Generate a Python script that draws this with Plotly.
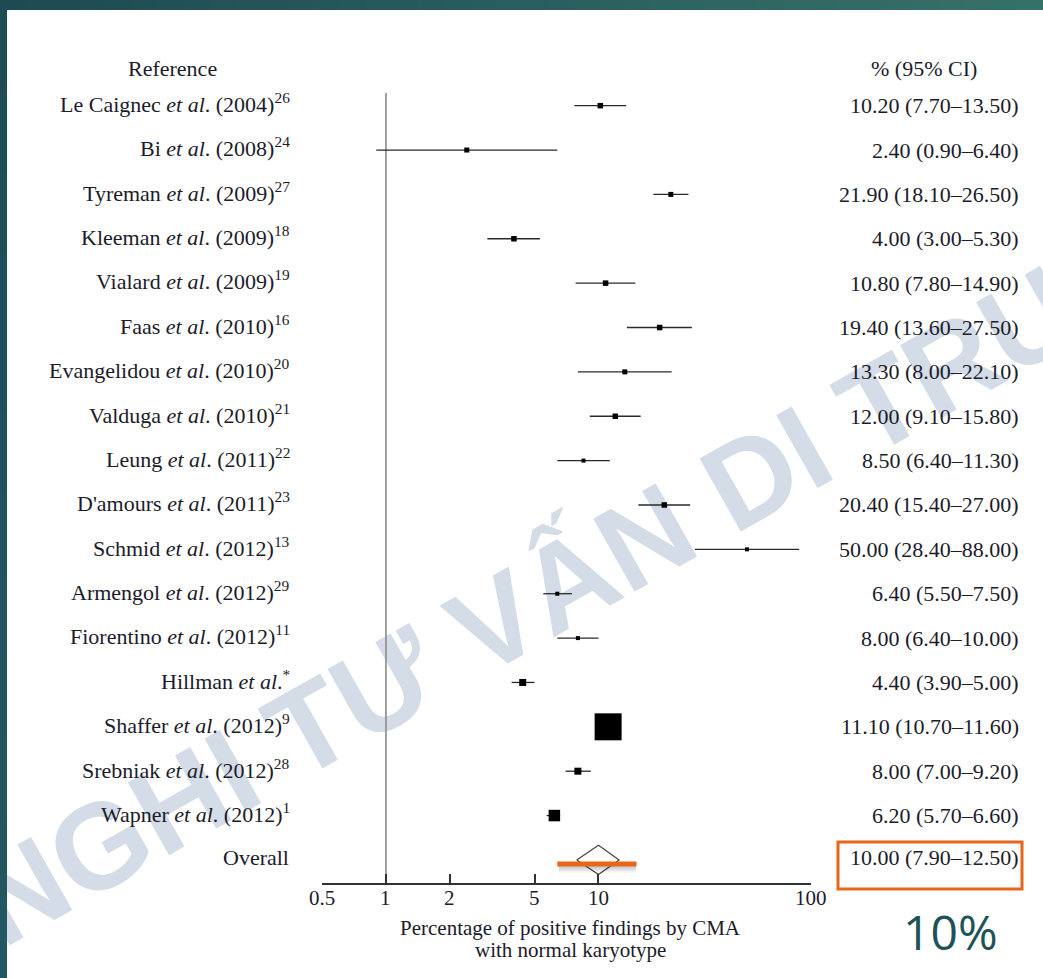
import math
import plotly.graph_objects as go

# ---- data -------------------------------------------------------------
studies = [
    "Le Caignec <i>et al</i>. (2004)<sup>26</sup>",
    "Bi <i>et al</i>. (2008)<sup>24</sup>",
    "Tyreman <i>et al</i>. (2009)<sup>27</sup>",
    "Kleeman <i>et al</i>. (2009)<sup>18</sup>",
    "Vialard <i>et al</i>. (2009)<sup>19</sup>",
    "Faas <i>et al</i>. (2010)<sup>16</sup>",
    "Evangelidou <i>et al</i>. (2010)<sup>20</sup>",
    "Valduga <i>et al</i>. (2010)<sup>21</sup>",
    "Leung <i>et al</i>. (2011)<sup>22</sup>",
    "D'amours <i>et al</i>. (2011)<sup>23</sup>",
    "Schmid <i>et al</i>. (2012)<sup>13</sup>",
    "Armengol <i>et al</i>. (2012)<sup>29</sup>",
    "Fiorentino <i>et al</i>. (2012)<sup>11</sup>",
    "Hillman <i>et al</i>.<sup>*</sup>",
    "Shaffer <i>et al</i>. (2012)<sup>9</sup>",
    "Srebniak <i>et al</i>. (2012)<sup>28</sup>",
    "Wapner <i>et al</i>. (2012)<sup>1</sup>",
]
estimate = [10.2, 2.4, 21.9, 4.0, 10.8, 19.4, 13.3, 12.0, 8.5, 20.4, 50.0, 6.4, 8.0, 4.4, 11.1, 8.0, 6.2]
ci_low = [7.7, 0.9, 18.1, 3.0, 7.8, 13.6, 8.0, 9.1, 6.4, 15.4, 28.4, 5.5, 6.4, 3.9, 10.7, 7.0, 5.7]
ci_high = [13.5, 6.4, 26.5, 5.3, 14.9, 27.5, 22.1, 15.8, 11.3, 27.0, 88.0, 7.5, 10.0, 5.0, 11.6, 9.2, 6.6]

overall_label = "Overall"
overall_est = 10.0
overall_low = 7.9
overall_high = 12.5

tick_values = [0.5, 1, 2, 5, 10, 100]
tick_labels = ["0.5", "1", "2", "5", "10", "100"]

axis_title_lines = ["Percentage of positive findings by CMA", "with normal karyotype"]

# ---- styling ----------------------------------------------------------
W, H = 1043, 978
M_L, M_R, M_T, M_B = 322, 232, 40, 95
PLOT_W = W - M_L - M_R
PLOT_H = H - M_T - M_B
Y_TOP, Y_BOTTOM = -1.48, 17.52
ROW_PX = PLOT_H / (Y_BOTTOM - Y_TOP)

box_px = [5.5, 5, 5, 5.5, 5.5, 5.5, 5, 5.5, 4, 5.5, 4, 4, 4, 7, 27, 7, 11.5]

SERIF = "Liberation Serif"
TEXT_COLOR = "#1b1b2b"
ORANGE = "#e8661a"
TEAL = "#1d5357"


def paper_x(px):
    return (px - M_L) / PLOT_W


def paper_y(py):
    return (H - M_B - py) / PLOT_H


def row_y(py):
    return Y_TOP + (py - M_T) / ROW_PX


rows = list(range(len(studies)))
overall_row = len(studies)

fig = go.Figure()

# confidence interval whiskers
ci_x, ci_y = [], []
for r, lo, hi in zip(rows, ci_low, ci_high):
    ci_x += [lo, hi, None]
    ci_y += [r, r, None]
fig.add_trace(go.Scatter(
    x=ci_x, y=ci_y, mode="lines", line=dict(color="#2a2a2a", width=1.3),
    hoverinfo="skip", showlegend=False, connectgaps=False,
))

# study estimates, boxes scaled by weight
fig.add_trace(go.Scatter(
    x=estimate, y=rows, mode="markers",
    marker=dict(symbol="square", size=box_px, color="#000000", opacity=1,
                line=dict(width=0)),
    hoverinfo="skip", showlegend=False,
))

# pooled estimate diamond
half_h = 0.33
fig.add_trace(go.Scatter(
    x=[overall_low, overall_est, overall_high, overall_est, overall_low],
    y=[overall_row, overall_row - half_h, overall_row, overall_row + half_h, overall_row],
    mode="lines", line=dict(color="#444444", width=1.2),
    hoverinfo="skip", showlegend=False,
))

shapes = []

# line of no effect at 1
shapes.append(dict(type="line", xref="x", yref="y", x0=1, x1=1,
                   y0=row_y(93), y1=Y_BOTTOM, line=dict(color="#8a8a8a", width=1.6),
                   layer="below"))

# diagonal watermark, drawn beneath the data
wm_angle = math.radians(29.5)
wm_cx, wm_cy, wm_half = 628, 534, 300
shapes.append(dict(
    type="line", xref="paper", yref="paper", layer="below",
    x0=paper_x(wm_cx - wm_half * math.cos(wm_angle)),
    y0=paper_y(wm_cy + wm_half * math.sin(wm_angle)),
    x1=paper_x(wm_cx + wm_half * math.cos(wm_angle)),
    y1=paper_y(wm_cy - wm_half * math.sin(wm_angle)),
    line=dict(color="rgba(0,0,0,0)", width=0),
    label=dict(text="NGHI TƯ VẤN DI TRUYỀN", textposition="middle", yanchor="middle",
               font=dict(family="Liberation Sans", size=122, color="#d3dce7", weight="bold")),
))

# top banner with a horizontal gradient
n_seg = 40
c0, c1 = (0x1e, 0x4a, 0x53), (0x36, 0x71, 0x69)
for i in range(n_seg):
    t = i / (n_seg - 1)
    col = "rgb({},{},{})".format(*[round(a + (b - a) * t) for a, b in zip(c0, c1)])
    shapes.append(dict(type="rect", xref="paper", yref="paper", layer="above",
                       x0=paper_x(W * i / n_seg), x1=paper_x(W * (i + 1) / n_seg + 1),
                       y0=paper_y(10), y1=paper_y(0), line=dict(width=0), fillcolor=col))

# left edge strip
l0, l1 = (0x1e, 0x4c, 0x54), (0x22, 0x58, 0x61)
n_seg = 12
for i in range(n_seg):
    t = i / (n_seg - 1)
    col = "rgb({},{},{})".format(*[round(a + (b - a) * t) for a, b in zip(l0, l1)])
    shapes.append(dict(type="rect", xref="paper", yref="paper", layer="above",
                       x0=paper_x(0), x1=paper_x(7),
                       y0=paper_y(10 + (H - 10) * (i + 1) / n_seg + 1),
                       y1=paper_y(10 + (H - 10) * i / n_seg),
                       line=dict(width=0), fillcolor=col))

# orange highlight under the pooled estimate, with a soft shadow
hl_y = row_y(864)
for off, w, a in [(4, 9, 0.05), (3, 7, 0.07), (2, 5, 0.08)]:
    shapes.append(dict(type="line", xref="x", yref="y", x0=6.5, x1=15.0,
                       y0=hl_y + off / ROW_PX, y1=hl_y + off / ROW_PX,
                       line=dict(color=f"rgba(0,0,0,{a})", width=w)))
shapes.append(dict(type="line", xref="x", yref="y", x0=6.4, x1=15.1,
                   y0=hl_y, y1=hl_y, line=dict(color=ORANGE, width=5)))

# orange frame around the pooled value
shapes.append(dict(type="rect", xref="paper", yref="paper",
                   x0=paper_x(838), x1=paper_x(1022), y0=paper_y(889), y1=paper_y(842),
                   line=dict(color=ORANGE, width=3), fillcolor="rgba(0,0,0,0)"))

annotations = []
label_font = dict(family=SERIF, size=22, color=TEXT_COLOR)

annotations.append(dict(text="Reference", xref="paper", yref="y", x=paper_x(172), y=row_y(68),
                        xanchor="center", yanchor="middle", showarrow=False, font=label_font))
annotations.append(dict(text="% (95% CI)", xref="paper", yref="y", x=paper_x(924), y=row_y(68),
                        xanchor="center", yanchor="middle", showarrow=False, font=label_font))

for r, name, e, lo, hi in zip(rows, studies, estimate, ci_low, ci_high):
    annotations.append(dict(text=name, xref="paper", yref="y", x=paper_x(292), y=r - 0.06,
                            xanchor="right", yanchor="middle", showarrow=False, font=label_font))
    annotations.append(dict(text=f"{e:.2f} ({lo:.2f}–{hi:.2f})", xref="paper", yref="y",
                            x=paper_x(1021), y=r, xanchor="right", yanchor="middle",
                            showarrow=False, font=label_font))

annotations.append(dict(text=overall_label, xref="paper", yref="y", x=paper_x(291), y=overall_row - 0.06,
                        xanchor="right", yanchor="middle", showarrow=False, font=label_font))
annotations.append(dict(text=f"{overall_est:.2f} ({overall_low:.2f}–{overall_high:.2f})",
                        xref="paper", yref="y", x=paper_x(1021), y=overall_row - 0.06,
                        xanchor="right", yanchor="middle", showarrow=False, font=label_font))

# tick labels sit close under the axis line
for tv, tl in zip(tick_values, tick_labels):
    annotations.append(dict(text=tl, xref="x", yref="paper", x=math.log10(tv), y=paper_y(898),
                            xanchor="center", yanchor="middle", showarrow=False,
                            font=dict(family=SERIF, size=21, color=TEXT_COLOR)))

for line_text, py in zip(axis_title_lines, [928, 950]):
    annotations.append(dict(text=line_text, xref="paper", yref="paper", x=paper_x(570), y=paper_y(py),
                            xanchor="center", yanchor="middle", showarrow=False,
                            font=dict(family=SERIF, size=21, color=TEXT_COLOR)))

annotations.append(dict(text="10%", xref="paper", yref="paper", x=paper_x(950), y=paper_y(932),
                        xanchor="center", yanchor="middle", showarrow=False,
                        font=dict(family="Open Sans", size=48, color=TEAL)))

fig.update_layout(
    width=W, height=H,
    margin=dict(l=M_L, r=M_R, t=M_T, b=M_B, pad=0),
    paper_bgcolor="white", plot_bgcolor="rgba(0,0,0,0)",
    showlegend=False,
    xaxis=dict(type="log", range=[math.log10(0.5), 2], tickvals=tick_values,
               showticklabels=False,
               showline=True, linecolor="#333333", linewidth=1.5, ticks="inside", ticklen=9,
               tickwidth=1.5, tickcolor="#333333", showgrid=False, zeroline=False,
               fixedrange=True),
    yaxis=dict(range=[Y_BOTTOM, Y_TOP], visible=False, showgrid=False, zeroline=False,
               fixedrange=True),
    shapes=shapes, annotations=annotations,
)

fig.write_html("out.html", config={"displayModeBar": False})
